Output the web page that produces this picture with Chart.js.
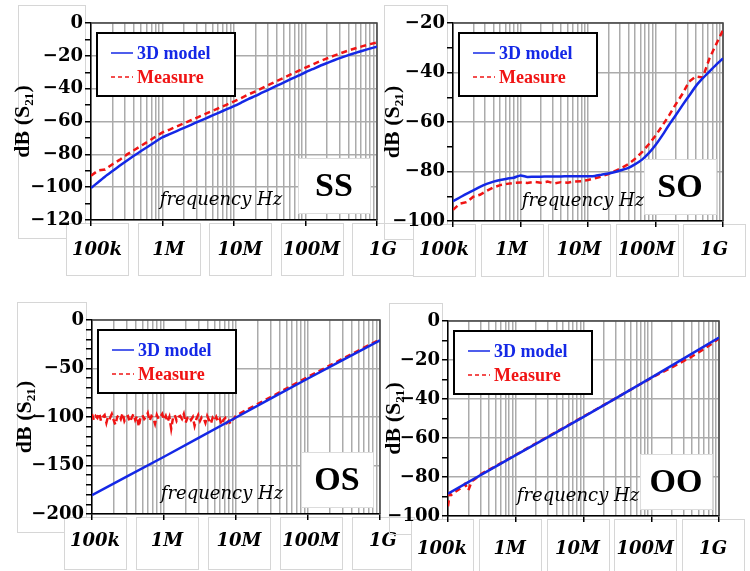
<!DOCTYPE html>
<html>
<head>
<meta charset="utf-8">
<script src="https://cdn.jsdelivr.net/npm/chart.js@4.4.0/dist/chart.umd.min.js"></script>
<style>
  html, body { margin: 0; padding: 0; background: #fff; }
  #wrap { position: relative; width: 750px; height: 571px; overflow: hidden; }
  #wrap canvas { position: absolute; left: 0; top: 0; }
</style>
</head>
<body>
<div id="wrap">
  <canvas id="ss" width="750" height="571"></canvas>
  <canvas id="so" width="750" height="571"></canvas>
  <canvas id="os" width="750" height="571"></canvas>
  <canvas id="oo" width="750" height="571"></canvas>
</div>
<script>
// x axis: decades and their labels
const decades = [1e5, 1e6, 1e7, 1e8, 1e9];
const tickLabels = ['100k', '1M', '10M', '100M', '1G'];
const gridMant = [1, 2, 3, 4, 5, 6, 7, 8, 9];

// sample frequencies, 10 per decade
const mant10 = [1, 1.26, 1.58, 2, 2.51, 3.16, 3.98, 5.01, 6.31, 7.94];
const freq = decades.slice(0, 4).flatMap(d => mant10.map(m => m * d)).concat([1e9]);

// 40 per decade for the noisy part of the OS measurement (100k .. 10M)
const osNoiseFreq = Array.from({ length: 80 }, (_, k) => 1e5 * Math.pow(10, k / 40));
const osTailFreq = [1e7, 3.16e7, 1e8, 3.16e8, 1e9];
const ooMeasFreq = [1e5, 1.06e5, 1.12e5, 1.26e5, 1.58e5, 1.78e5, 2e5, 2.24e5, 2.51e5,
                    3.16e5, 5.01e5, 1e6, 1e7, 1e8, 2e8, 3.98e8, 6.31e8, 1e9];

// SS
const ssModel = [-100.5, -97.0, -93.5, -90.2, -87.0, -83.9, -80.9, -78.0, -75.2, -72.3,
  -69.6, -67.7, -65.8, -63.9, -62.0, -60.1, -58.2, -56.3, -54.4, -52.5,
  -50.6, -48.5, -46.4, -44.4, -42.3, -40.3, -38.2, -36.2, -34.1, -32.1,
  -30.0, -28.1, -26.2, -24.4, -22.7, -21.1, -19.6, -18.2, -16.9, -15.6, -14.4];
const ssMeasure = [-93.0, -89.8, -89.2, -86.0, -83.4, -80.2, -77.5, -74.8, -72.1, -69.3,
  -66.6, -64.9, -63.0, -61.1, -59.2, -57.3, -55.4, -53.5, -51.6, -49.7,
  -47.8, -45.7, -43.6, -41.6, -39.5, -37.4, -35.3, -33.3, -31.2, -29.2,
  -27.2, -25.3, -23.4, -21.6, -19.9, -18.3, -16.8, -15.4, -14.1, -12.9, -11.8];

// SO
const soModel = [-92.0, -90.5, -89.0, -87.6, -86.2, -85.0, -84.1, -83.4, -82.9, -82.5,
  -81.6, -82.2, -82.1, -82.1, -82.0, -82.0, -82.0, -81.9, -81.9, -81.9,
  -81.9, -81.8, -81.3, -80.8, -80.2, -79.4, -78.5, -77.0, -75.2, -72.6,
  -69.3, -65.4, -61.2, -57.2, -53.2, -49.3, -45.4, -42.3, -39.5, -36.8, -34.3];
const soMeasure = [-95.5, -93.0, -92.4, -90.2, -89.4, -87.8, -86.4, -85.5, -85.0, -84.6,
  -84.4, -84.6, -84.2, -84.5, -84.1, -84.8, -84.3, -84.5, -84.0, -83.9,
  -83.4, -82.8, -82.0, -81.0, -79.8, -78.5, -77.0, -74.8, -72.2, -69.0,
  -65.5, -61.5, -57.4, -52.8, -48.6, -43.6, -41.6, -42.0, -34.2, -28.5, -22.8];

// OS
const osModel = [-180.5, -141.0, -100.5, -60.3, -21.0];
const osNoise = [
  -97, -103, -99, -101, -96, -104, -100, -98, -106, -99,
  -101, -97, -103, -108, -100, -98, -102, -96, -104, -100,
  -99, -105, -101, -97, -103, -99, -110, -100, -98, -102,
  -100, -96, -104, -99, -101, -107, -98, -102, -100, -97,
  -103, -99, -105, -100, -112, -101, -98, -104, -100, -99,
  -102, -97, -106, -101, -99, -103, -100, -109, -102, -98,
  -104, -100, -101, -106, -99, -103, -107, -101, -104, -100,
  -105, -102, -108, -103, -101, -106, -104, -107, -103, -101.5];
const osTail = [-98.5, -78.8, -58.6, -39.2, -20.0];

// OO
const ooModel = [-88.5, -68.8, -49.2, -29.0, -8.5];
const ooMeasure = [-95.0, -88.5, -89.2, -87.8, -85.5, -83.5, -86.8, -82.2, -81.0,
  -78.2, -74.5, -68.6, -49.0, -29.2, -23.8, -18.2, -13.9, -9.0];

const BLUE = '#1428e6';
const RED = '#f01414';

function pts(xs, ys) {
  return xs.map((x, i) => ({ x: x, y: ys[i] }));
}

const panels = [
  { id: 'ss', name: 'SS', L: 91, R: 377, T: 23, B: 220, yMin: -120, yMax: 0, yMajor: 20,
    titleX: 23, boxLeft: 18, shift: 6, pad: 14,
    model: pts(freq, ssModel), measure: pts(freq, ssMeasure) },
  { id: 'so', name: 'SO', L: 453, R: 739, T: 23, B: 221, yMin: -100, yMax: -20, yMajor: 20,
    titleX: 393, boxLeft: 384, shift: -9, pad: 13,
    model: pts(freq, soModel), measure: pts(freq, soMeasure) },
  { id: 'os', name: 'OS', L: 92, R: 380, T: 320, B: 514, yMin: -200, yMax: 0, yMajor: 50,
    titleX: 25, boxLeft: 17, shift: 3, pad: 11,
    model: pts(decades, osModel), measure: pts(osNoiseFreq, osNoise).concat(pts(osTailFreq, osTail)) },
  { id: 'oo', name: 'OO', L: 448, R: 738, T: 321, B: 516, yMin: -100, yMax: 0, yMajor: 20,
    titleX: 394, boxLeft: 389, shift: -6, pad: 17,
    model: pts(decades, ooModel), measure: pts(ooMeasFreq, ooMeasure) }
];

const decor = {
  id: 'decor',
  beforeDraw(chart, args, opts) {
    const { ctx, chartArea: a } = chart;
    const x = chart.scales.x;
    ctx.save();
    ctx.strokeStyle = '#d6d6d6';
    ctx.lineWidth = 1;
    // pasted boxes round the tick labels
    ctx.strokeRect(opts.boxLeft + 0.5, a.top - 18 + 0.5, a.left - 6 - opts.boxLeft, a.bottom - a.top + 36);
    decades.forEach(d => {
      const cx = Math.round(x.getPixelForValue(d) + opts.shift);
      ctx.fillStyle = '#fff';
      ctx.fillRect(cx - 31, a.bottom + 3, 62, 52);
      ctx.strokeRect(cx - 31 + 0.5, a.bottom + 3.5, 62, 52);
    });
    ctx.restore();
  },
  beforeDatasetsDraw(chart) {
    const { ctx, chartArea: a } = chart;
    ctx.save();
    ctx.strokeStyle = '#444';
    ctx.lineWidth = 1.5;
    ctx.beginPath();
    ctx.moveTo(a.left, a.top);
    ctx.lineTo(a.right, a.top);
    ctx.lineTo(a.right, a.bottom);
    ctx.stroke();
    ctx.restore();
  },
  afterDraw(chart, args, opts) {
    const { ctx, chartArea: a } = chart;
    ctx.save();
    // axis caption inside the plot
    ctx.fillStyle = '#000';
    ctx.font = 'italic 18px "DejaVu Serif"';
    ctx.textAlign = 'center';
    ctx.textBaseline = 'middle';
    ctx.fillText('frequency Hz', a.left + 130, a.bottom - 20);

    // panel name
    const nx = a.right - 79, ny = a.bottom - 62;
    ctx.fillStyle = '#fff';
    ctx.fillRect(nx, ny, 72, 55);
    ctx.strokeStyle = '#dcdcdc';
    ctx.lineWidth = 1;
    ctx.strokeRect(nx + 0.5, ny + 0.5, 72, 55);
    ctx.fillStyle = '#000';
    ctx.font = 'bold 34px "Liberation Serif"';
    ctx.fillText(opts.name, nx + 36, ny + 29);

    // legend
    const lx = a.left + 6, ly = a.top + 10;
    ctx.fillStyle = '#fff';
    ctx.fillRect(lx, ly, 138, 63);
    ctx.strokeStyle = '#000';
    ctx.lineWidth = 2;
    ctx.strokeRect(lx, ly, 138, 63);
    ctx.textAlign = 'left';
    ctx.font = 'bold 18px "Liberation Serif"';
    chart.data.datasets.forEach((ds, i) => {
      const yy = ly + 20 + i * 24;
      ctx.strokeStyle = ds.borderColor;
      ctx.lineWidth = 1.5;
      ctx.setLineDash(ds.borderDash ? [4, 3] : []);
      ctx.beginPath();
      ctx.moveTo(lx + 14, yy);
      ctx.lineTo(lx + 36, yy);
      ctx.stroke();
      ctx.setLineDash([]);
      ctx.fillStyle = ds.borderColor;
      ctx.fillText(ds.label, lx + 40, yy + 1);
    });
    ctx.restore();
  }
};

panels.forEach(p => {
  const yLeft = p.titleX - 13;
  new Chart(document.getElementById(p.id), {
    type: 'line',
    data: {
      datasets: [
        { label: '3D model', data: p.model, borderColor: BLUE, borderWidth: 2.5,
          pointRadius: 0, tension: 0.2, fill: false },
        { label: 'Measure', data: p.measure, borderColor: RED, borderWidth: 2.5,
          borderDash: [6, 4], pointRadius: 0, tension: 0, fill: false }
      ]
    },
    options: {
      responsive: false,
      animation: false,
      devicePixelRatio: 1,
      layout: { padding: { left: yLeft, top: p.T, right: 750 - p.R, bottom: 571 - p.B - 50 } },
      plugins: {
        legend: { display: false },
        tooltip: { enabled: false },
        decor: { name: p.name, boxLeft: p.boxLeft, shift: p.shift }
      },
      scales: {
        x: {
          type: 'logarithmic',
          min: 1e5,
          max: 1e9,
          afterBuildTicks: s => {
            s.ticks = decades.slice(0, 4).flatMap(d => gridMant.map(m => ({ value: m * d })))
              .concat([{ value: 1e9 }]);
          },
          afterFit: s => { s.height = 50; },
          ticks: {
            autoSkip: false,
            maxRotation: 0,
            minRotation: 0,
            padding: p.pad,
            labelOffset: p.shift,
            color: '#000',
            font: { family: '"DejaVu Serif"', size: 18, weight: 'bold', style: 'italic' },
            callback: v => {
              const k = decades.indexOf(v);
              return k >= 0 ? tickLabels[k] : '';
            }
          },
          grid: {
            color: '#ababab',
            lineWidth: 1.5,
            tickLength: 6,
            tickColor: c => (c.tick && decades.indexOf(c.tick.value) >= 0 ? '#000' : 'rgba(0,0,0,0)')
          },
          border: { color: '#000', width: 1.5 }
        },
        y: {
          min: p.yMin,
          max: p.yMax,
          afterFit: s => { s.width = p.L - yLeft; },
          ticks: {
            stepSize: 10,
            autoSkip: false,
            padding: 2,
            color: '#000',
            font: { family: '"DejaVu Serif"', size: 18, weight: 'bold' },
            callback: v => (v % p.yMajor === 0 ? (v < 0 ? '\u2212' + (-v) : String(v)) : '')
          },
          grid: {
            lineWidth: 1.5,
            tickLength: 6,
            tickColor: '#000',
            color: c => (c.tick && c.tick.value % p.yMajor === 0 ? '#ababab' : 'rgba(0,0,0,0)')
          },
          border: { color: '#000', width: 1.5 },
          title: {
            display: true,
            text: 'dB (S\u2082\u2081)',
            color: '#000',
            padding: 0,
            font: { family: '"Liberation Serif"', size: 22, weight: 'bold', lineHeight: 1.2 }
          }
        }
      }
    },
    plugins: [decor]
  });
});
</script>
</body>
</html>
